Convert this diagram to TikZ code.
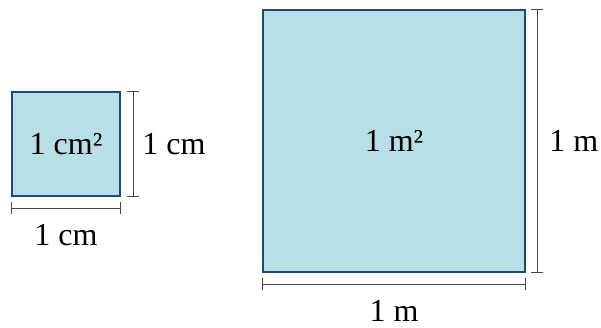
\documentclass[tikz,border=0pt]{standalone}
\usepackage{fontspec}
\setmainfont{Liberation Serif}
\usetikzlibrary{positioning, arrows.meta}

\definecolor{areafill}{RGB}{184,222,231}
\definecolor{areaedge}{RGB}{31,73,125}
\definecolor{dimgray}{RGB}{70,70,70}

\begin{document}
\begin{tikzpicture}[x=1pt, y=1pt,
  font=\fontsize{32}{36}\selectfont,
  area/.style={draw=areaedge, line width=2.5pt, fill=areafill, inner sep=0pt},
  dimline/.style={draw=dimgray, line width=1.5pt, {Bar[width=12pt]}-{Bar[width=12pt]}}]

\useasboundingbox (0, 0) rectangle (601, 327);

% the two squares
\node [area, minimum width=108, minimum height=104] (small) at (66, 183) {1 cm²};
\node [area, minimum size=262] (large) at (394, 186) {1 m²};

% dimension points
\coordinate (smallR1) at ([xshift=12]small.north east);
\coordinate (smallR2) at ([xshift=12]small.south east);
\coordinate (smallB1) at ([yshift=-11]small.south west);
\coordinate (smallB2) at ([yshift=-11]small.south east);
\coordinate (largeR1) at ([xshift=11]large.north east);
\coordinate (largeR2) at ([xshift=11]large.south east);
\coordinate (largeB1) at ([yshift=-11]large.south west);
\coordinate (largeB2) at ([yshift=-11]large.south east);

\draw [dimline] (smallR1) -- (smallR2) node[midway, right=5pt] (smallh) {1 cm};
\draw [dimline] (smallB1) -- (smallB2) node[midway, below=12pt] (smallw) {1 cm};
\draw [dimline] (largeR1) -- (largeR2) node[midway, right=8pt] (largeh) {1 m};
\draw [dimline] (largeB1) -- (largeB2) node[midway, below=12pt] (largew) {1 m};

\end{tikzpicture}
\end{document}
